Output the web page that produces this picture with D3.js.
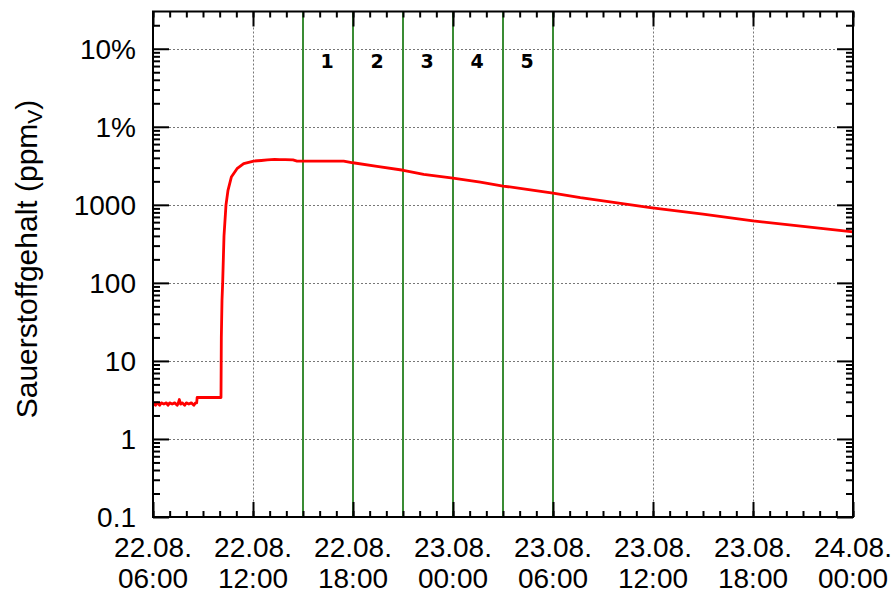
<!DOCTYPE html>
<html>
<head>
<meta charset="utf-8">
<script src="https://cdn.jsdelivr.net/npm/d3@7"></script>
<style>
  html, body { margin: 0; padding: 0; background: #fff; }
  svg { display: block; }
  text { font-family: "Liberation Sans", Arial, Helvetica, sans-serif; fill: #000; }
</style>
</head>
<body>
<svg id="chart" width="895" height="593"></svg>
<script>
// Oxygen content measurement, logged from 22.08. 06:00 onward
const startTime = "22.08. 06:00";
// elapsed time in hours since the start
const elapsedHours = [
  0.00, 0.15, 0.25, 0.40, 0.50, 0.65, 0.80, 0.90, 1.00, 1.15, 1.30, 1.45, 1.52, 1.58, 1.66,
  1.75, 1.90, 2.00, 2.15, 2.30, 2.45, 2.55, 2.62, 2.65,
  4.08, 4.10, 4.14, 4.18, 4.26, 4.38, 4.50, 4.70, 5.04, 5.44, 6.04, 6.50, 6.86, 7.30, 7.60,
  7.94, 8.40, 8.64, 9.50, 10.50, 11.44, 12.00, 13.44, 15.02, 16.24, 18.00, 19.64, 21.00,
  22.44, 24.00, 25.64, 29.84, 33.00, 36.00, 39.00, 42.00
];
// oxygen content in ppmV
const oxygenPpm = [
  2.9, 2.7, 2.9, 2.7, 2.9, 2.8, 2.9, 2.7, 2.9, 2.8, 2.9, 2.7, 2.9, 3.2, 2.8,
  2.9, 2.7, 2.9, 2.8, 2.9, 2.7, 2.9, 2.9, 3.4,
  3.4, 20, 60, 100, 400, 1000, 1535, 2270, 2905, 3374, 3640, 3700, 3760, 3820, 3790,
  3796, 3760, 3640, 3640, 3630, 3640, 3460, 3112, 2773, 2460, 2203, 1958, 1741,
  1581, 1417, 1237, 923, 760, 621, 530, 449
];
// marked measurement intervals (boundaries, in hours since start) and their names
const intervalBounds = [9, 12, 15, 18, 21, 24];
const intervalNames = ["1", "2", "3", "4", "5"];
// y axis ticks and labels
const yTickValues = [0.1, 1, 10, 100, 1000, 10000, 100000];
const yTickLabels = ["0.1", "1", "10", "100", "1000", "1%", "10%"];
// x axis: major ticks every 6 h, minor every hour
const xMajorHours = [0, 6, 12, 18, 24, 30, 36, 42];

const svg = d3.select("#chart");
const plotLeft = 153, plotRight = 853, plotTop = 11.5, plotBottom = 517;

const parse = d3.timeParse("%d.%m. %H:%M");
const t0 = parse(startTime);
const at = h => new Date(t0.getTime() + h * 3600e3);

const x = d3.scaleTime().domain([at(0), at(42)]).range([plotLeft, plotRight]);
const y = d3.scaleLog().domain([0.1, 3e5]).range([plotBottom, plotTop]);

const majorDates = xMajorHours.map(at);
const minorDates = d3.range(0, 43).map(at);
const yMinor = [];
for (let e = -1; e <= 5; e++) for (let m = 2; m <= 9; m++) {
  const v = m * Math.pow(10, e);
  if (v < 3e5) yMinor.push(v);
}

// grid
const grid = svg.append("g").attr("stroke", "#777").attr("stroke-width", 1).attr("stroke-dasharray", "2,2");
grid.selectAll("line.gx").data(majorDates.slice(1, -1)).join("line")
  .attr("x1", d => Math.round(x(d)) + 0.5).attr("x2", d => Math.round(x(d)) + 0.5)
  .attr("y1", plotTop).attr("y2", plotBottom);
grid.selectAll("line.gy").data(yTickValues.slice(1)).join("line")
  .attr("x1", plotLeft).attr("x2", plotRight)
  .attr("y1", d => Math.round(y(d)) + 0.5).attr("y2", d => Math.round(y(d)) + 0.5);

// interval boundaries
svg.append("g").selectAll("line").data(intervalBounds.map(at)).join("line")
  .attr("x1", d => x(d)).attr("x2", d => x(d))
  .attr("y1", plotTop).attr("y2", plotBottom)
  .attr("stroke", "#3a8c34").attr("stroke-width", 2);

svg.append("g").selectAll("text").data(intervalNames).join("text")
  .attr("x", (d, i) => (x(at(intervalBounds[i])) + x(at(intervalBounds[i + 1]))) / 2 - 1)
  .attr("y", 68)
  .attr("text-anchor", "middle")
  .style("font-family", "'DejaVu Sans', Verdana, sans-serif")
  .style("font-weight", "bold")
  .style("font-size", "19px")
  .text(d => d);

// measured curve
const series = elapsedHours.map((h, i) => ({ t: at(h), v: oxygenPpm[i] }));
svg.append("path").datum(series)
  .attr("fill", "none").attr("stroke", "#f00").attr("stroke-width", 2.8)
  .attr("stroke-linejoin", "round")
  .attr("d", d3.line().x(d => x(d.t)).y(d => y(d.v)));

// frame
svg.append("rect").attr("x", plotLeft).attr("y", plotTop)
  .attr("width", plotRight - plotLeft).attr("height", plotBottom - plotTop)
  .attr("fill", "none").attr("stroke", "#000").attr("stroke-width", 2);

// tick marks on all four sides
function ticks(axisFn, scale, values, size, transform) {
  const g = svg.append("g").attr("transform", transform)
    .call(axisFn(scale).tickValues(values).tickSize(size).tickFormat(""));
  g.select(".domain").remove();
  g.selectAll(".tick line").attr("stroke", "#000").attr("stroke-width", 2);
  return g;
}
ticks(d3.axisBottom, x, minorDates, -6, `translate(0,${plotBottom})`);
ticks(d3.axisBottom, x, majorDates, -15, `translate(0,${plotBottom})`);
ticks(d3.axisTop, x, minorDates, -6, `translate(0,${plotTop})`);
ticks(d3.axisTop, x, majorDates, -15, `translate(0,${plotTop})`);
ticks(d3.axisLeft, y, yMinor, -7, `translate(${plotLeft},0)`);
ticks(d3.axisLeft, y, yTickValues, -16, `translate(${plotLeft},0)`);
ticks(d3.axisRight, y, yMinor, -7, `translate(${plotRight},0)`);
ticks(d3.axisRight, y, yTickValues, -16, `translate(${plotRight},0)`);

// x labels (date over time)
const fDay = d3.timeFormat("%d.%m."), fTime = d3.timeFormat("%H:%M");
const xl = svg.append("g").selectAll("text").data(majorDates).join("text")
  .attr("text-anchor", "middle").style("font-size", "28px");
xl.append("tspan").attr("x", d => x(d)).attr("y", 557).text(d => fDay(d));
xl.append("tspan").attr("x", d => x(d)).attr("y", 588).text(d => fTime(d));

// y labels
svg.append("g").selectAll("text").data(yTickValues).join("text")
  .attr("x", 136).attr("y", d => y(d)).attr("dy", "0.36em")
  .attr("text-anchor", "end").style("font-size", "28px")
  .text((d, i) => yTickLabels[i]);

// y axis title
const yt = svg.append("text")
  .attr("transform", "translate(37,259) rotate(-90)")
  .attr("text-anchor", "middle").style("font-size", "30px");
yt.append("tspan").text("Sauerstoffgehalt (ppm");
yt.append("tspan").attr("baseline-shift", "-25%").style("font-size", "21px").text("V");
yt.append("tspan").text(")");
</script>
</body>
</html>
